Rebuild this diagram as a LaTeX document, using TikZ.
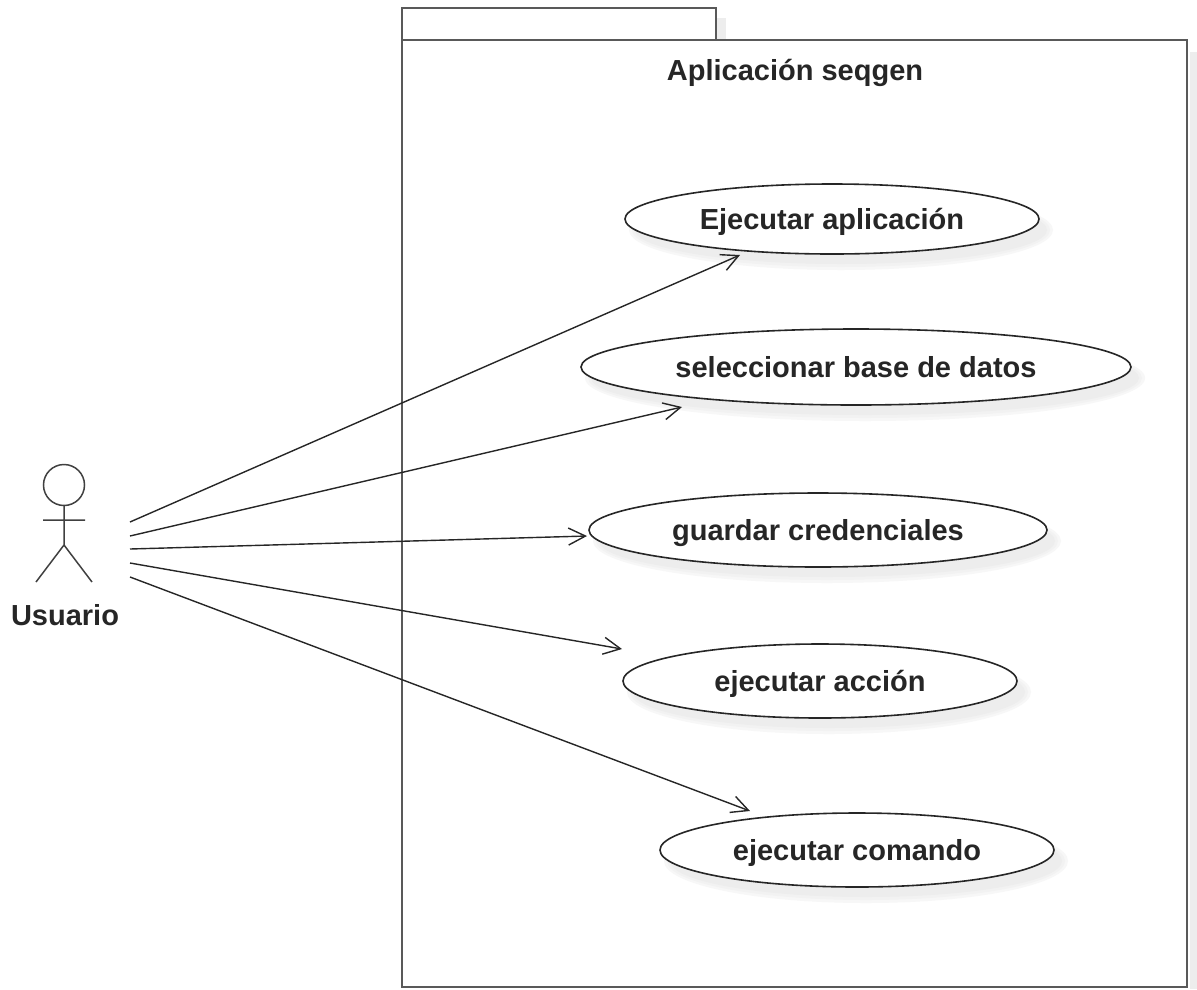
\documentclass[tikz,border=0pt]{standalone}
\usepackage{fontspec}
\setmainfont{Liberation Sans}
\usetikzlibrary{arrows.meta,shapes.geometric}
\tikzset{
  lbl/.style={font=\bfseries\fontsize{29}{32}\selectfont, text=black!85, inner sep=0pt,
    text height=21pt, text depth=0pt},
  ucshape/.style={ellipse, draw=black!85, line width=1.6pt, fill=white, inner sep=0pt},
  frame/.style={draw=black!65, line width=2.4pt, fill=white},
  limb/.style={draw=black!75, line width=1.5pt},
  assoc/.style={draw=black!85, line width=1.4pt,
    -{Straight Barb[length=17pt, width=17pt, line width=1.4pt]}},
}
% soft drop shadow followed by the outlined use-case ellipse
\newcommand{\usecaseat}[5]{%
  \fill[black!3] (#2+9,#3+11) ellipse [x radius=#4+5, y radius=#5+5];
  \fill[black!5] (#2+9,#3+11) ellipse [x radius=#4+2, y radius=#5+2];
  \fill[black!7] (#2+9,#3+11) ellipse [x radius=#4-1, y radius=#5-1];
  \node[ucshape, minimum width=2*#4, minimum height=2*#5] (#1) at (#2,#3) {};
}
\begin{document}
\begin{tikzpicture}[x=1pt, y=-1pt]
\useasboundingbox (0,0) rectangle (1197,989);

% package frame with its tab and shadows
\fill[black!7] (717,18) rectangle (726,40);
\fill[black!7] (1190,52) rectangle (1197,989);
\draw[frame] (402,8) rectangle (716,40);
\draw[frame] (402,40) rectangle (1187,987);
\node[lbl] (title) at (795,70) {Aplicación seqgen};

% use cases
\usecaseat{uc1}{832}{219}{207}{35}
\usecaseat{uc2}{856}{367}{275}{38}
\usecaseat{uc3}{818}{530}{229}{37}
\usecaseat{uc4}{820}{681}{197}{37}
\usecaseat{uc5}{857}{850}{197}{37}
\node[lbl] at (uc1) {Ejecutar aplicación};
\node[lbl] at (uc2) {seleccionar base de datos};
\node[lbl] at (uc3) {guardar credenciales};
\node[lbl] at (uc4) {ejecutar acción};
\node[lbl] at (uc5) {ejecutar comando};

% actor
\draw[limb] (64,485) circle [radius=20.5];
\draw[limb] (64,505.5) -- (64,545) (43,520) -- (85,520)
  (36,582) -- (64,545) -- (92,582);
\node[lbl] (actor) at (65,615) {Usuario};

% associations from the actor to each use case
\coordinate (s1) at (130,522);
\coordinate (s2) at (130,536);
\coordinate (s3) at (130,549);
\coordinate (s4) at (130,563);
\coordinate (s5) at (130,577);
\coordinate (t1) at (740,255);
\coordinate (t2) at (682,407);
\coordinate (t3) at (587,536);
\coordinate (t4) at (622,649);
\coordinate (t5) at (750,811);
\draw[assoc] (s1) -- (t1);
\draw[assoc] (s2) -- (t2);
\draw[assoc] (s3) -- (t3);
\draw[assoc] (s4) -- (t4);
\draw[assoc] (s5) -- (t5);
\end{tikzpicture}
\end{document}
